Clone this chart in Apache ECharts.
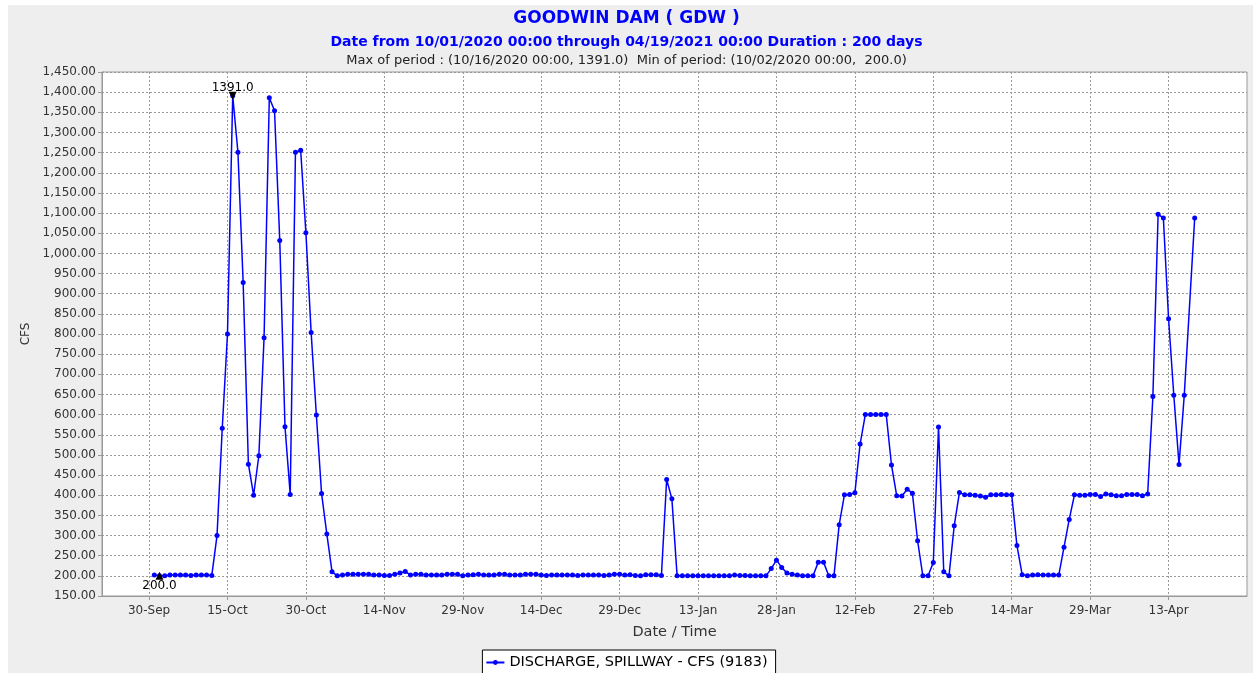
<!DOCTYPE html>
<html>
<head>
<meta charset="utf-8">
<title>GOODWIN DAM ( GDW )</title>
<script src="https://cdn.jsdelivr.net/npm/echarts@6/dist/echarts.min.js"></script>
<style>
  html, body { margin: 0; padding: 0; background: #fff; }
  #chart { width: 1253px; height: 673px; }
</style>
</head>
<body>
<div id="chart"></div>
<script>
// daily spillway discharge (CFS), 10/01/2020 .. 04/19/2021, null = no reading
const octValues = [202, 200, 200, 202, 202, 202, 202, 201, 202, 202, 202, 201, 300, 566, 800, 1391,
  1251, 928, 477, 400, 498, 791, 1386, 1354, 1032, 570, 402, 1251, 1256, 1051, 804];
const novValues = [599, 404, 304, 210, 200, 202, 204, 204, 204, 204, 204, 202, 202, 201, 201, 204,
  207, 211, 202, 204, 204, 202, 202, 202, 202, 204, 204, 204, 200, 202];
const decValues = [203, 204, 202, 202, 202, 204, 204, 202, 202, 202, 204, 204, 204, 202, 201, 202,
  202, 202, 202, 202, 201, 202, 202, 202, 202, 201, 202, 204, 204, 202, 203];
const janValues = [201, 200, 203, 203, 203, 201, 439, 391, 200, 200, 200, 200, 200, 200, 200, 200,
  200, 200, 200, 202, 201, 201, 200, 200, 200, 200, 218, 239, 221, 207, 204];
const febValues = [202, 200, 200, 200, 234, 234, 200, 200, 327, 401, 402, 406, 527, 600, 600, 600,
  600, 600, 475, 399, 398, 415, 405, 287, 200, 200, 233, 569];
const marValues = [210, 200, 324, 407, 401, 401, 400, 398, 395, 401, 401, 402, 401, 401, 275, 203,
  200, 202, 203, 202, 202, 202, 202, 271, 340, 401, 400, 400, 402, 402, 397];
const aprValues = [403, 401, 399, 399, 402, 402, 402, 399, 403, 645, 1097, 1088, 838, 648, 476, 648,
  null, 1088, null];

const tickLabels = ['30-Sep', '15-Oct', '30-Oct', '14-Nov', '29-Nov', '14-Dec', '29-Dec',
  '13-Jan', '28-Jan', '12-Feb', '27-Feb', '14-Mar', '29-Mar', '13-Apr'];

const axisStart = Date.UTC(2020, 8, 21);  // x axis runs 21-Sep .. 28-Apr
const axisEnd = Date.UTC(2021, 3, 28);
const dataStart = Date.UTC(2020, 9, 1);
const monthNames = ['Jan', 'Feb', 'Mar', 'Apr', 'May', 'Jun', 'Jul', 'Aug', 'Sep', 'Oct', 'Nov', 'Dec'];
const DAY = 86400000;

const values = [].concat(octValues, novValues, decValues, janValues, febValues, marValues, aprValues);

const categories = [];
const seriesData = [];
for (let t = axisStart; t <= axisEnd; t += DAY) {
  const d = new Date(t);
  categories.push(d.getUTCDate() + '-' + monthNames[d.getUTCMonth()]);
  const i = Math.round((t - dataStart) / DAY);
  seriesData.push(i >= 0 && i < values.length ? values[i] : null);
}

const isTick = (idx) => tickLabels.indexOf(categories[idx]) >= 0;

const chart = echarts.init(document.getElementById('chart'));
const font = 'DejaVu Sans';

const option = {
  backgroundColor: '#fff',
  animation: false,
  graphic: [{
    type: 'rect',
    z: -10,
    shape: { x: 8, y: 5, width: 1245, height: 668 },
    style: { fill: '#eeeeee' }
  }],
  title: [
    {
      text: 'GOODWIN DAM ( GDW )',
      left: 'center',
      top: 5,
      textStyle: { color: '#0000ff', fontSize: 17, fontWeight: 'bold', fontFamily: font }
    },
    {
      text: 'Date from 10/01/2020 00:00 through 04/19/2021 00:00 Duration : 200 days',
      left: 'center',
      top: 30,
      textStyle: { color: '#0000ff', fontSize: 14, fontWeight: 'bold', fontFamily: font }
    },
    {
      text: 'Max of period : (10/16/2020 00:00, 1391.0)  Min of period: (10/02/2020 00:00,  200.0)',
      left: 'center',
      top: 49,
      textStyle: { color: '#222', fontSize: 13, fontWeight: 'normal', fontFamily: font }
    }
  ],
  legend: {
    bottom: -3,
    left: 'center',
    data: ['DISCHARGE, SPILLWAY - CFS (9183)'],
    backgroundColor: '#fff',
    borderColor: '#000',
    borderWidth: 1,
    borderRadius: 0,
    padding: [5, 8, 6, 3],
    itemWidth: 18,
    itemHeight: 6,
    itemGap: 4,
    textStyle: { color: '#000', fontSize: 14.5, fontFamily: font }
  },
  grid: {
    left: 102,
    right: 6,
    top: 72,
    bottom: 77,
    show: true,
    backgroundColor: '#fff',
    borderColor: '#999',
    borderWidth: 1
  },
  xAxis: {
    type: 'category',
    data: categories,
    boundaryGap: false,
    name: 'Date / Time',
    nameLocation: 'middle',
    nameGap: 29,
    nameTextStyle: { color: '#333', fontSize: 14.5, fontFamily: font },
    axisLine: { lineStyle: { color: '#999' } },
    axisTick: { interval: isTick, length: 4, lineStyle: { color: '#999' } },
    axisLabel: { interval: isTick, color: '#333', fontSize: 12, margin: 9, fontFamily: font },
    splitLine: { show: true, interval: isTick, lineStyle: { color: '#999', type: [2, 2], width: 1 } }
  },
  yAxis: {
    type: 'value',
    min: 150,
    max: 1450,
    interval: 50,
    name: 'CFS',
    nameLocation: 'middle',
    nameGap: 66,
    nameTextStyle: { color: '#333', fontSize: 12, fontFamily: font },
    axisLine: { show: true, lineStyle: { color: '#999' } },
    axisTick: { show: true, length: 4, lineStyle: { color: '#999' } },
    axisLabel: {
      color: '#333',
      fontSize: 12,
      margin: 6,
      fontFamily: font,
      formatter: v => v.toLocaleString('en-US', { minimumFractionDigits: 2, maximumFractionDigits: 2 })
    },
    splitLine: { show: true, lineStyle: { color: '#999', type: [2, 2], width: 1 } }
  },
  series: [{
    name: 'DISCHARGE, SPILLWAY - CFS (9183)',
    type: 'line',
    data: seriesData,
    connectNulls: true,
    showAllSymbol: true,
    symbol: 'circle',
    symbolSize: 5,
    itemStyle: { color: '#0000ff' },
    lineStyle: { color: '#0000ff', width: 1.5 },
    markPoint: {
      symbolSize: 8,
      data: [
        {
          type: 'max',
          symbol: 'triangle',
          symbolRotate: 180,
          itemStyle: { color: '#000' },
          label: { position: 'top', distance: -2, formatter: p => p.value.toFixed(1) }
        },
        {
          type: 'min',
          symbol: 'triangle',
          itemStyle: { color: '#000' },
          label: { position: 'bottom', distance: 0, formatter: p => p.value.toFixed(1) }
        }
      ],
      label: { color: '#000', fontSize: 12, fontFamily: font }
    }
  }]
};

chart.setOption(option);
</script>
</body>
</html>
